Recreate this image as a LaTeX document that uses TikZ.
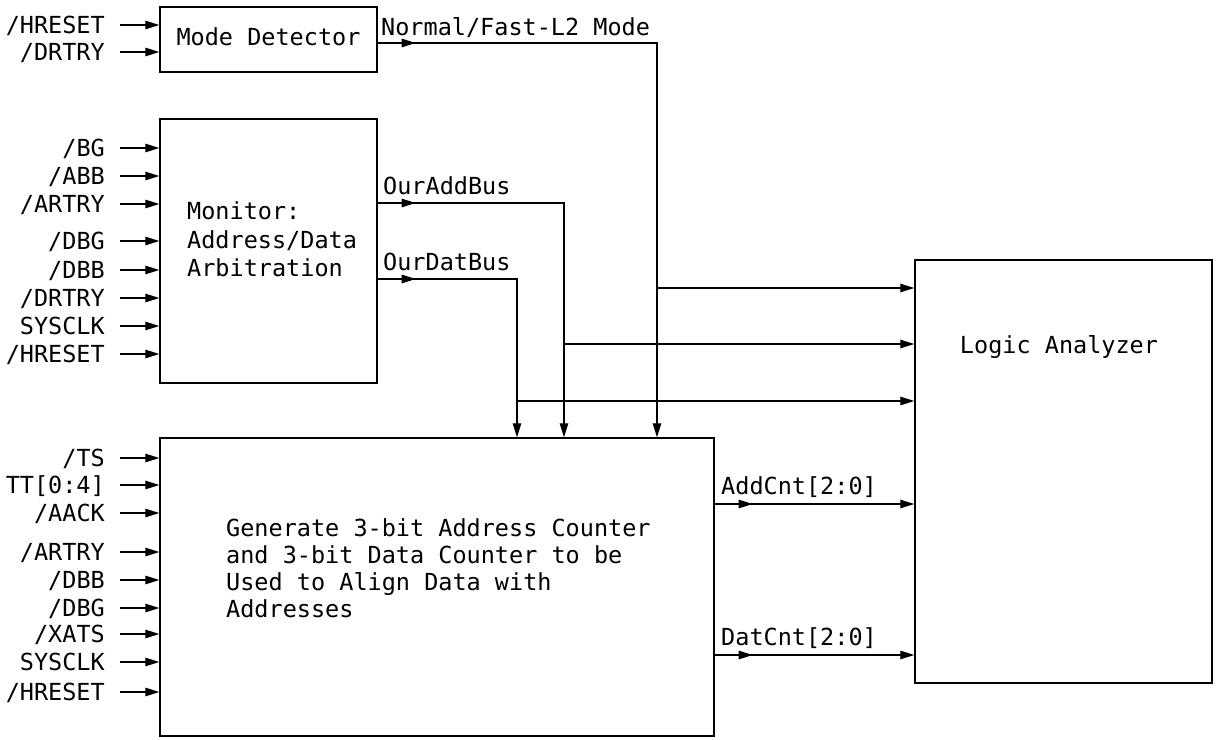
\documentclass[tikz,border=0pt]{standalone}
\usepackage{fontspec}
\setmainfont{DejaVu Sans Mono}
\usepackage{tikz}
\usetikzlibrary{arrows.meta}

\begin{document}
\begin{tikzpicture}[x=1pt,y=-1pt,
  blk/.style={draw, line width=1.4pt, inner sep=0pt},
  sig/.style={font=\fontsize{23.5}{27}\selectfont, inner sep=0pt, text height=17pt, text depth=0pt},
  txt/.style={inner sep=0pt, align=left},
  wire/.style={line width=1.1pt},
  into/.style={wire, -{Triangle[length=14pt,width=8.5pt]}}]%
\useasboundingbox (0,0) rectangle (1218,739);%
\node[blk, minimum width=217pt, minimum height=65pt] (mode) at (268.5, 39.5) {};%
\node[blk, minimum width=217pt, minimum height=264pt] (mon) at (268.5, 251.0) {};%
\node[blk, minimum width=554pt, minimum height=298pt] (gen) at (437.0, 587.0) {};%
\node[blk, minimum width=297pt, minimum height=423pt] (la) at (1063.5, 471.5) {};%
\node[sig] (modelbl) at (268.5, 37.0) {Mode Detector};%
\node[txt, anchor=north west, font=\fontsize{23.5}{28.5}\selectfont] (monlbl) at (187.0, 201.5) {Monitor:\\Address/Data\\Arbitration};%
\node[txt, anchor=north west, font=\fontsize{23.5}{27}\selectfont] (genlbl) at (226.0, 518.5) {Generate 3-bit Address Counter\\and 3-bit Data Counter to be\\Used to Align Data with\\Addresses};%
\node[sig] (lalbl) at (1059.0, 345.0) {Logic Analyzer};%
\node[sig, anchor=east] (mdHRESET) at (105.0, 25.0) {/HRESET};%
\draw[into] ([xshift=15pt]mdHRESET.east) -- (mdHRESET -| mode.west);%
\node[sig, anchor=east] (mdDRTRY) at (105.0, 52.0) {/DRTRY};%
\draw[into] ([xshift=15pt]mdDRTRY.east) -- (mdDRTRY -| mode.west);%
\node[sig, anchor=east] (mnBG) at (105.0, 148.0) {/BG};%
\draw[into] ([xshift=15pt]mnBG.east) -- (mnBG -| mon.west);%
\node[sig, anchor=east] (mnABB) at (105.0, 176.0) {/ABB};%
\draw[into] ([xshift=15pt]mnABB.east) -- (mnABB -| mon.west);%
\node[sig, anchor=east] (mnARTRY) at (105.0, 204.0) {/ARTRY};%
\draw[into] ([xshift=15pt]mnARTRY.east) -- (mnARTRY -| mon.west);%
\node[sig, anchor=east] (mnDBG) at (105.0, 241.0) {/DBG};%
\draw[into] ([xshift=15pt]mnDBG.east) -- (mnDBG -| mon.west);%
\node[sig, anchor=east] (mnDBB) at (105.0, 270.0) {/DBB};%
\draw[into] ([xshift=15pt]mnDBB.east) -- (mnDBB -| mon.west);%
\node[sig, anchor=east] (mnDRTRY) at (105.0, 298.0) {/DRTRY};%
\draw[into] ([xshift=15pt]mnDRTRY.east) -- (mnDRTRY -| mon.west);%
\node[sig, anchor=east] (mnSYSCLK) at (105.0, 326.0) {SYSCLK};%
\draw[into] ([xshift=15pt]mnSYSCLK.east) -- (mnSYSCLK -| mon.west);%
\node[sig, anchor=east] (mnHRESET) at (105.0, 354.0) {/HRESET};%
\draw[into] ([xshift=15pt]mnHRESET.east) -- (mnHRESET -| mon.west);%
\node[sig, anchor=east] (gnTS) at (105.0, 458.0) {/TS};%
\draw[into] ([xshift=15pt]gnTS.east) -- (gnTS -| gen.west);%
\node[sig, anchor=east] (gnTT) at (105.0, 485.0) {TT[0:4]};%
\draw[into] ([xshift=15pt]gnTT.east) -- (gnTT -| gen.west);%
\node[sig, anchor=east] (gnAACK) at (105.0, 513.0) {/AACK};%
\draw[into] ([xshift=15pt]gnAACK.east) -- (gnAACK -| gen.west);%
\node[sig, anchor=east] (gnARTRY) at (105.0, 552.0) {/ARTRY};%
\draw[into] ([xshift=15pt]gnARTRY.east) -- (gnARTRY -| gen.west);%
\node[sig, anchor=east] (gnDBB) at (105.0, 580.0) {/DBB};%
\draw[into] ([xshift=15pt]gnDBB.east) -- (gnDBB -| gen.west);%
\node[sig, anchor=east] (gnDBG) at (105.0, 608.0) {/DBG};%
\draw[into] ([xshift=15pt]gnDBG.east) -- (gnDBG -| gen.west);%
\node[sig, anchor=east] (gnXATS) at (105.0, 634.0) {/XATS};%
\draw[into] ([xshift=15pt]gnXATS.east) -- (gnXATS -| gen.west);%
\node[sig, anchor=east] (gnSYSCLK) at (105.0, 662.0) {SYSCLK};%
\draw[into] ([xshift=15pt]gnSYSCLK.east) -- (gnSYSCLK -| gen.west);%
\node[sig, anchor=east] (gnHRESET) at (105.0, 692.0) {/HRESET};%
\draw[into] ([xshift=15pt]gnHRESET.east) -- (gnHRESET -| gen.west);%
\coordinate (nmbend) at (657.0, 43.0);%
\coordinate (oabend) at (564.0, 203.0);%
\coordinate (odbend) at (517.0, 279.0);%
\coordinate (nmtap) at (657.0, 288.0);%
\coordinate (oatap) at (564.0, 344.0);%
\coordinate (odtap) at (517.0, 401.0);%
\coordinate (acrow) at (0.0, 504.0);%
\coordinate (dcrow) at (0.0, 655.0);%
\node[sig, anchor=south west] (nmlbl) at (381.0, 36.0) {Normal/Fast-L2 Mode};%
\draw[into] (mode.east |- nmbend) -- ++(38,0);%
\draw[into] (mode.east |- nmbend) -- (nmbend) -- (nmbend |- gen.north);%
\node[sig, anchor=south west] (oalbl) at (383.0, 195.0) {OurAddBus};%
\draw[into] (mon.east |- oabend) -- ++(38,0);%
\draw[into] (mon.east |- oabend) -- (oabend) -- (oabend |- gen.north);%
\node[sig, anchor=south west] (odlbl) at (383.0, 271.0) {OurDatBus};%
\draw[into] (mon.east |- odbend) -- ++(38,0);%
\draw[into] (mon.east |- odbend) -- (odbend) -- (odbend |- gen.north);%
\draw[into] (nmtap) -- (nmtap -| la.west);%
\draw[into] (oatap) -- (oatap -| la.west);%
\draw[into] (odtap) -- (odtap -| la.west);%
\node[sig, anchor=south west] (aclbl) at (721.0, 495.0) {AddCnt[2:0]};%
\draw[into] (gen.east |- acrow) -- ++(38,0);%
\draw[into] (gen.east |- acrow) -- (acrow -| la.west);%
\node[sig, anchor=south west] (dclbl) at (721.0, 646.0) {DatCnt[2:0]};%
\draw[into] (gen.east |- dcrow) -- ++(38,0);%
\draw[into] (gen.east |- dcrow) -- (dcrow -| la.west);%
\end{tikzpicture}
\end{document}
